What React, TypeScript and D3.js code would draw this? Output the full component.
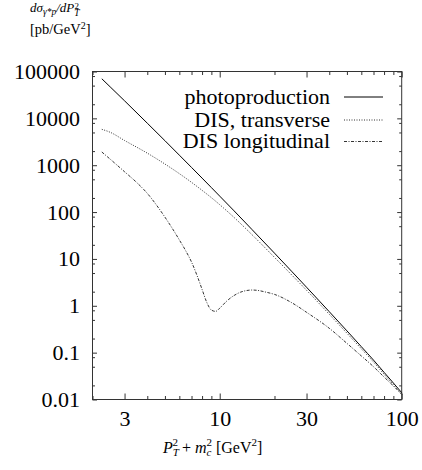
import React, { useEffect, useRef } from 'react';
import * as d3 from 'd3';

// P_T^2 + m_c^2 grid and cross sections [pb/GeV^2]
const photoX = [2.25, 2.5, 3, 4, 5, 6, 7, 8, 9, 10, 12, 15, 20, 25, 30, 40, 50, 60, 70, 80, 90, 100];
const photoY = [70000, 47100, 23700, 7890, 3340, 1640, 897, 531, 333, 219, 106, 42.9, 13.3, 5.3, 2.49, 0.748, 0.292, 0.134, 0.0693, 0.038, 0.0225, 0.014];
const transY = [5830, 5050, 3370, 1810, 1060, 661, 431, 291, 203, 144, 76.6, 33.3, 10.8, 4.46, 2.15, 0.659, 0.26, 0.121, 0.0632, 0.0347, 0.0207, 0.0129];

const longX = [2.25, 2.5, 3, 3.5, 4, 4.5, 5, 5.5, 6, 6.5, 7, 7.5, 8, 8.5, 9, 9.5, 10, 11, 12, 13, 14, 15, 16, 18, 20, 25, 30, 40, 50, 60, 70, 80, 90, 100];
const longY = [1915, 1349, 726, 427, 251, 140, 78, 44.3, 25.5, 15.0, 8.6, 4.47, 2.24, 1.17, 0.81, 0.76, 0.89, 1.29, 1.66, 1.95, 2.11, 2.17, 2.14, 1.95, 1.75, 1.15, 0.726, 0.331, 0.158, 0.0851, 0.0501, 0.0302, 0.0195, 0.0129];

const seriesNames = ['photoproduction', 'DIS, transverse', 'DIS longitudinal'];
const seriesDash = ['none', '1,1.5', '3,1.5,1,1.5'];

const xTicks = [3, 10, 30, 100];
const xMinor = [2, 4, 5, 6, 7, 8, 9, 20, 40, 50, 60, 70, 80, 90];
const yTicks = [0.01, 0.1, 1, 10, 100, 1000, 10000, 100000];
const yTickLabels = ['0.01', '0.1', '1', '10', '100', '1000', '10000', '100000'];
const yMinor = [0.02, 0.05, 0.08, 0.2, 0.5, 0.8, 2, 5, 8, 20, 50, 80, 200, 500, 800, 2000, 5000, 8000, 20000, 50000, 80000];

const W = 422;
const H = 470;
const FONT = '"Liberation Serif", "Times New Roman", serif';

const App = () => {
	const ref = useRef<SVGSVGElement>(null);

	useEffect(() => {
		if (!ref.current) return;
		const svg = d3.select(ref.current);
		svg.selectAll('*').remove();

		const m = { l: 92.5, t: 71.5, r: 401.7, b: 399.5 };
		const x = d3.scaleLog().domain([2, 100]).range([m.l, m.r]);
		const y = d3.scaleLog().domain([0.01, 100000]).range([m.b, m.t]);

		const fixAxis = (g: any) => {
			g.select('.domain').remove();
			g.attr('color', '#333').attr('font-family', FONT).attr('font-size', 22);
			g.selectAll('text').attr('fill', '#000');
		};

		// bottom
		svg.append('g')
			.attr('transform', `translate(0,${m.b})`)
			.call(d3.axisBottom(x).tickValues(xTicks).tickFormat(d3.format('d')).tickSizeInner(-6).tickSizeOuter(0).tickPadding(11))
			.call(fixAxis);
		svg.append('g')
			.attr('transform', `translate(0,${m.b})`)
			.call(d3.axisBottom(x).tickValues(xMinor).tickFormat(() => '').tickSizeInner(-3.5).tickSizeOuter(0))
			.call(fixAxis);
		// top
		svg.append('g')
			.attr('transform', `translate(0,${m.t})`)
			.call(d3.axisTop(x).tickValues(xTicks).tickFormat(() => '').tickSizeInner(-6).tickSizeOuter(0))
			.call(fixAxis);
		svg.append('g')
			.attr('transform', `translate(0,${m.t})`)
			.call(d3.axisTop(x).tickValues(xMinor).tickFormat(() => '').tickSizeInner(-3.5).tickSizeOuter(0))
			.call(fixAxis);
		// left
		svg.append('g')
			.attr('transform', `translate(${m.l},0)`)
			.call(d3.axisLeft(y).tickValues(yTicks).tickFormat((d, i) => yTickLabels[i]).tickSizeInner(-4.5).tickSizeOuter(0).tickPadding(12.5))
			.call(fixAxis);
		svg.append('g')
			.attr('transform', `translate(${m.l},0)`)
			.call(d3.axisLeft(y).tickValues(yMinor).tickFormat(() => '').tickSizeInner(-2.5).tickSizeOuter(0))
			.call(fixAxis);
		// right
		svg.append('g')
			.attr('transform', `translate(${m.r},0)`)
			.call(d3.axisRight(y).tickValues(yTicks).tickFormat(() => '').tickSizeInner(-4.5).tickSizeOuter(0))
			.call(fixAxis);
		svg.append('g')
			.attr('transform', `translate(${m.r},0)`)
			.call(d3.axisRight(y).tickValues(yMinor).tickFormat(() => '').tickSizeInner(-2.5).tickSizeOuter(0))
			.call(fixAxis);

		svg.append('rect')
			.attr('x', m.l)
			.attr('y', m.t)
			.attr('width', m.r - m.l)
			.attr('height', m.b - m.t)
			.attr('fill', 'none')
			.attr('stroke', '#333')
			.attr('stroke-width', 1);

		const line = d3
			.line<[number, number]>()
			.x(d => x(d[0]))
			.y(d => y(d[1]))
			.curve(d3.curveMonotoneX);

		const series: [number, number][][] = [
			d3.zip(photoX, photoY) as [number, number][],
			d3.zip(photoX, transY) as [number, number][],
			d3.zip(longX, longY) as [number, number][],
		];

		svg.append('g')
			.selectAll('path')
			.data(series)
			.join('path')
			.attr('d', line)
			.attr('fill', 'none')
			.attr('stroke', (d, i) => (i === 0 ? '#000' : '#333'))
			.attr('stroke-width', 1)
			.attr('stroke-dasharray', (d, i) => seriesDash[i]);

		// legend
		const legend = svg.append('g').attr('font-family', FONT).attr('font-size', 22);
		const rowBase = [104, 126.5, 148];
		const rowLine = [97, 120, 141.5];
		legend
			.selectAll('text')
			.data(seriesNames)
			.join('text')
			.attr('x', 330)
			.attr('y', (d, i) => rowBase[i])
			.attr('text-anchor', 'end')
			.text(d => d);
		legend
			.selectAll('line')
			.data(seriesNames)
			.join('line')
			.attr('x1', 344)
			.attr('x2', 383)
			.attr('y1', (d, i) => rowLine[i])
			.attr('y2', (d, i) => rowLine[i])
			.attr('stroke', (d, i) => (i === 0 ? '#000' : '#333'))
			.attr('stroke-width', 1)
			.attr('stroke-dasharray', (d, i) => seriesDash[i]);

		// y title (top left)
		const t1 = svg.append('text').attr('x', 30).attr('y', 12).attr('font-family', FONT).attr('font-size', 13).attr('font-style', 'italic');
		t1.append('tspan').text('dσ');
		t1.append('tspan').attr('dy', 3).attr('font-size', 9.5).text('γ*p');
		t1.append('tspan').attr('dy', -3).text('/dP');
		t1.append('tspan').attr('dy', 4).attr('font-size', 9.5).text('T');
		t1.append('tspan').attr('dx', -5).attr('dy', -7.5).attr('font-size', 9).attr('font-style', 'normal').text('2');

		const t2 = svg.append('text').attr('x', 30).attr('y', 34).attr('font-family', FONT).attr('font-size', 14.5);
		t2.append('tspan').text('[pb/GeV');
		t2.append('tspan').attr('dy', -5).attr('font-size', 10).text('2');
		t2.append('tspan').attr('dy', 5).text(']');

		// x title
		const xt = svg.append('text').attr('x', 163).attr('y', 452.5).attr('font-family', FONT).attr('font-size', 16);
		xt.append('tspan').attr('font-style', 'italic').text('P');
		xt.append('tspan').attr('dy', 3.5).attr('font-size', 11).attr('font-style', 'italic').text('T');
		xt.append('tspan').attr('dx', -6.5).attr('dy', -10).attr('font-size', 11).text('2');
		xt.append('tspan').attr('dy', 6.5).text(' + ');
		xt.append('tspan').attr('font-style', 'italic').text('m');
		xt.append('tspan').attr('dy', 3.5).attr('font-size', 11).attr('font-style', 'italic').text('c');
		xt.append('tspan').attr('dx', -5).attr('dy', -10).attr('font-size', 11).text('2');
		xt.append('tspan').attr('dy', 6.5).text('  [GeV');
		xt.append('tspan').attr('dy', -6.5).attr('font-size', 11).text('2');
		xt.append('tspan').attr('dy', 6.5).text(']');
	}, []);

	return <svg ref={ref} width={W} height={H} style={{ position: 'absolute', left: 0, top: 0, background: '#fff' }} />;
};

export default App;
